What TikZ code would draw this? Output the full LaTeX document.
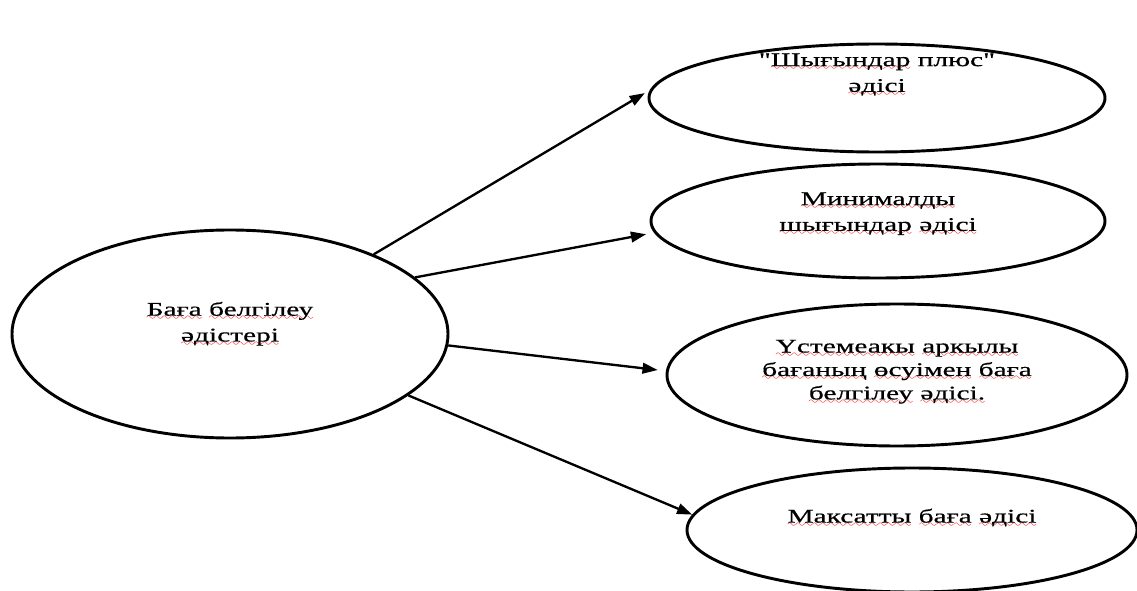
\documentclass[tikz,border=0pt]{standalone}
\usepackage{fontspec}
\newfontfamily\kzfont{Liberation Serif}[FakeStretch=1.52,FakeBold=0.6]
\usetikzlibrary{shapes.geometric,arrows.meta}
\font\wavefnt=lasy10
\newcommand\spl[1]{\setbox0\hbox{#1}\rlap{\textcolor{red}{\lower4pt\hbox to \wd0{\xleaders\hbox{\wavefnt\char58}\hfil}}}\box0\relax}
\begin{document}
\begin{tikzpicture}[x=0.03cm,y=-0.03cm,
				oval/.style={ellipse,draw,line width=2.5pt,inner sep=0pt},
				txt/.style={align=center,font=\kzfont\fontsize{16.5}{22}\selectfont},
				arr/.style={line width=2pt,-{Triangle[length=13pt,width=9pt]}}]
\useasboundingbox (0,0) rectangle (1137,591);
% ovals
\node[oval,minimum width=13.08cm,minimum height=6.24cm] (src) at (230,334) {};
\node[oval,minimum width=13.68cm,minimum height=3.24cm] (t1) at (877,98) {};
\node[oval,minimum width=13.62cm,minimum height=3.42cm] (t2) at (878,221) {};
\node[oval,minimum width=13.8cm,minimum height=4.26cm] (t3) at (897,375) {};
\node[oval,minimum width=13.5cm,minimum height=3.72cm] (t4) at (912,530) {};
% texts
\node[txt] (srctxt) at (230,324) {\spl{Баға} \spl{белгілеу}\\\spl{әдістері}};
\node[txt] (t1txt) at (877,75) {"\spl{Шығындар} плюс"\\\spl{әдісі}};
\node[txt] (t2txt) at (878,214) {\spl{Минималды}\\\spl{шығындар} \spl{әдісі}};
\node[txt,font=\kzfont\fontsize{16.5}{20}\selectfont] (t3txt) at (897,372) {\spl{Үстемеакы} \spl{аркылы}\\\spl{бағаның} \spl{өсуімен} \spl{баға}\\\spl{белгілеу} \spl{әдісі.}};
\node[txt] (t4txt) at (912,518) {\spl{Максатты} \spl{баға} \spl{әдісі}};
% arrows
\draw[arr,shorten >=5pt] (src.29) -- (t1.178);
\draw[arr,shorten >=7pt] (src.17) -- (t2.183);
\draw[arr,shorten >=7pt] (src.-3) -- (t3.179);
\draw[arr] (src.-19) -- (t4.176);
\end{tikzpicture}
\end{document}
